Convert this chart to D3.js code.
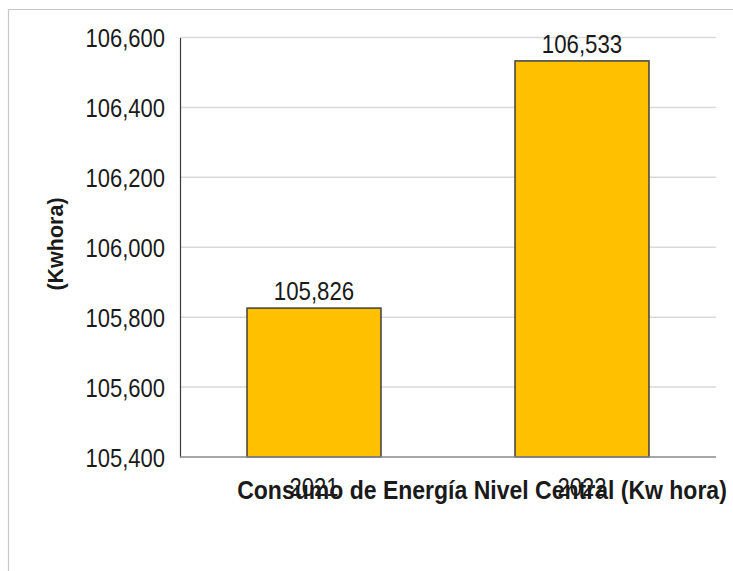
<!DOCTYPE html>
<html>
<head>
<meta charset="utf-8">
<script src="https://cdn.jsdelivr.net/npm/d3@7"></script>
<style>
html,body{margin:0;padding:0;background:#fff;}
svg{display:block;}
text{font-family:"Liberation Sans",Arial,sans-serif;fill:#1a1a1a;}
</style>
</head>
<body>
<svg id="chart" width="733" height="571"></svg>
<script>
const categories = ["2021", "2022"];
const values = [105826, 106533];
const yTicks = [105400, 105600, 105800, 106000, 106200, 106400, 106600];
const yTitle = "(Kwhora)";
const xTitle = "Consumo de Energía Nivel Central (Kw hora)";

const svg = d3.select("#chart");
const W = 733, H = 571;
const m = {left: 180, right: 17, top: 37.5, bottom: 114};
const fmt = d3.format(",");

// outer frame
svg.append("path").attr("d", `M8.5,${H} L8.5,9.5 L${W},9.5`)
  .attr("fill", "none").attr("stroke", "#c6c6c6").attr("stroke-width", 1.2);

const x = d3.scaleBand().domain(categories).range([m.left, W - m.right]).paddingInner(0.5).paddingOuter(0.25);
const y = d3.scaleLinear().domain([105400, 106600]).range([H - m.bottom, m.top]);

const sx = 0.88, fs = 25;

// gridlines
svg.append("g").selectAll("line").data(yTicks.slice(1)).join("line")
  .attr("x1", m.left).attr("x2", W - m.right)
  .attr("y1", d => y(d)).attr("y2", d => y(d))
  .attr("stroke", "#d9d9d9").attr("stroke-width", 1.5);

// y axis via d3 axis, restyled
const yAxis = svg.append("g").attr("transform", `translate(${m.left},0)`)
  .call(d3.axisLeft(y).tickValues(yTicks).tickSize(0).tickPadding(15).tickFormat(fmt));
yAxis.select(".domain").attr("stroke", "#3a3a3a").attr("stroke-width", 1.2);
yAxis.selectAll("text")
  .attr("font-size", fs).attr("font-family", "Liberation Sans, Arial, sans-serif")
  .attr("fill", "#1a1a1a").attr("dy", "0.36em")
  .attr("transform", function() {
    const xx = +d3.select(this).attr("x");
    return `translate(${xx},0) scale(${sx},1) translate(${-xx},0)`;
  });

// bars
svg.append("g").selectAll("rect").data(values).join("rect")
  .attr("x", (d, i) => x(categories[i]))
  .attr("width", x.bandwidth())
  .attr("y", d => y(d))
  .attr("height", d => y(105400) - y(d))
  .attr("fill", "#FFC000").attr("stroke", "#404040").attr("stroke-width", 1.5);

// baseline
svg.append("line").attr("x1", m.left).attr("x2", W - m.right)
  .attr("y1", y(105400)).attr("y2", y(105400))
  .attr("stroke", "#8a8a8a").attr("stroke-width", 1.5);

// value labels
svg.append("g").selectAll("text").data(values).join("text")
  .attr("text-anchor", "middle").attr("font-size", fs)
  .attr("transform", (d, i) => `translate(${x(categories[i]) + x.bandwidth() / 2},${y(d) - 8}) scale(0.89,1)`)
  .text(d => fmt(d));

// x title
svg.append("text").attr("text-anchor", "middle").attr("font-size", 26).attr("font-weight", "bold")
  .attr("fill", "#111")
  .attr("transform", `translate(482,499) scale(0.885,1)`)
  .text(xTitle);

// category labels (overlap the title as in the reference)
svg.append("g").selectAll("text").data(categories).join("text")
  .attr("text-anchor", "middle").attr("font-size", fs)
  .attr("transform", d => `translate(${x(d) + x.bandwidth() / 2},496) scale(${sx},1)`)
  .text(d => d);

// y title
svg.append("text").attr("text-anchor", "middle").attr("font-size", 21.5).attr("font-weight", "bold")
  .attr("fill", "#111")
  .attr("transform", `translate(63,244) rotate(-90)`)
  .text(yTitle);
</script>
</body>
</html>
